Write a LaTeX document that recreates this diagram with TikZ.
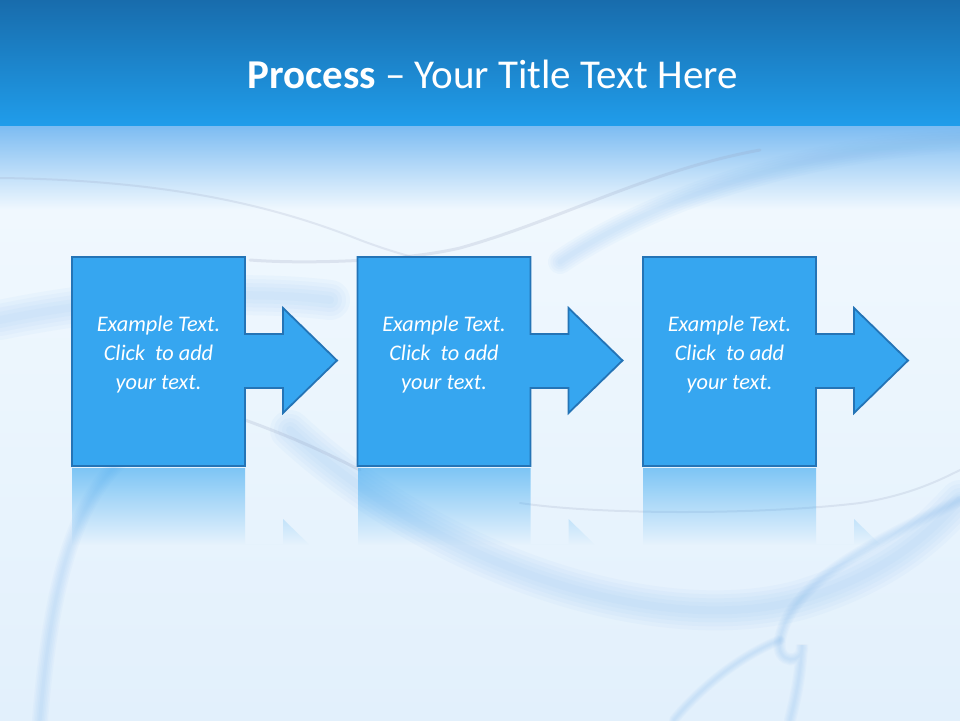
\documentclass[tikz,border=0pt]{standalone}
\usepackage{fontspec}
\setmainfont{Carlito}
\usetikzlibrary{fadings}
\definecolor{barTop}{RGB}{24,108,172}
\definecolor{barBot}{RGB}{32,157,235}
\definecolor{glowTop}{RGB}{125,188,242}
\definecolor{paleBlue}{RGB}{240,248,254}
\definecolor{paleLow}{RGB}{226,240,252}
\definecolor{stepFill}{RGB}{54,166,240}
\definecolor{stepLine}{RGB}{36,116,182}
\definecolor{swirlBlue}{RGB}{130,185,238}
\definecolor{swirlGray}{RGB}{150,160,190}
\tikzfading[name=reflfade, top color=transparent!40, bottom color=transparent!100]
\tikzset{
  stepshape/.style={fill=stepFill, draw=stepLine, line width=1.8pt, line join=miter},
  reflshape/.style={fill=stepFill, path fading=reflfade},
  steptext/.style={text=white, align=center,
    font=\fontsize{22.3}{29}\selectfont\itshape},
  titletext/.style={text=white, font=\fontsize{41}{48}\selectfont},
  swirlband/.style={draw=swirlBlue, line cap=round, opacity=0.06},
  swirlline/.style={draw=swirlGray, line cap=round, opacity=0.3, line width=2pt}
}

\begin{document}
\begin{tikzpicture}[x=1pt, y=-1pt]
  \useasboundingbox (0,0) rectangle (960,720);

  % Background
  \fill[paleBlue] (0,0) rectangle (960,720);
  \shade[top color=barTop, bottom color=barBot] (0,0) rectangle (960,126);
  \shade[top color=glowTop, bottom color=paleBlue] (0,126) rectangle (960,210);
  \shade[top color=paleBlue, bottom color=paleLow] (0,210) rectangle (960,720);

  % Swirls (soft bands built from several widths)
  \foreach \w in {8,16,24,32,40} {
    \draw[swirlband, line width=\w pt] (0,320) .. controls (120,295) and (250,290) .. (330,300);
    \draw[swirlband, line width=\w pt] (290,430) .. controls (430,560) and (650,640) .. (800,600)
      .. controls (900,570) and (940,520) .. (960,500);
    \draw[swirlband, line width=0.6*\w pt] (560,262) .. controls (650,200) and (800,150) .. (960,140);
    \draw[swirlband, line width=0.4*\w pt] (40,720) .. controls (50,600) and (70,480) .. (150,440);
    \draw[swirlband, line width=0.3*\w pt] (960,500) .. controls (880,540) and (790,580) .. (780,640)
      .. controls (775,665) and (805,665) .. (802,645) .. controls (800,680) and (795,700) .. (790,720);
    \draw[swirlband, line width=0.25*\w pt] (780,640) .. controls (730,660) and (690,700) .. (674,720);
  }
  \draw[swirlline, opacity=0.2] (0,178) .. controls (150,180) and (260,200) .. (360,240)
    .. controls (400,255) and (430,262) .. (440,262);
  \draw[swirlline, line width=3pt, opacity=0.22] (250,260) .. controls (300,264) and (400,262) .. (460,248)
    .. controls (560,220) and (650,170) .. (760,150);
  \draw[swirlline, line width=3pt, opacity=0.22] (245,420) .. controls (300,440) and (330,455) .. (360,470);
  \draw[swirlline, opacity=0.2] (520,503) .. controls (600,515) and (760,515) .. (860,503)
    .. controls (910,495) and (940,480) .. (960,470);

  % Steps
  \foreach \i/\dx in {1/0, 2/285.5, 3/571} {
    \begin{scope}[xshift=\dx pt]
      % reflection
      \begin{scope}
        \clip (72,468) -- (245,468) -- (245,544) -- (283,544) -- (283,519)
          -- (337,571.5) -- (337,560) -- (72,560) -- cycle;
        \path[reflshape] (72,468) rectangle (340,545);
      \end{scope}
      \draw[stepshape] (72,257) -- (245,257) -- (245,334) -- (283,334) -- (283,308)
        -- (337,360.5) -- (283,413) -- (283,388) -- (245,388) -- (245,466)
        -- (72,466) -- cycle;
      \node[steptext] (step\i) at (158.5,355) {Example Text.\\Click~ to add\\your text.};
    \end{scope}
  }

  % Title
  \node[titletext, anchor=base] (title) at (492.5,88) {\textbf{Process} -- Your Title Text Here};
\end{tikzpicture}
\end{document}
